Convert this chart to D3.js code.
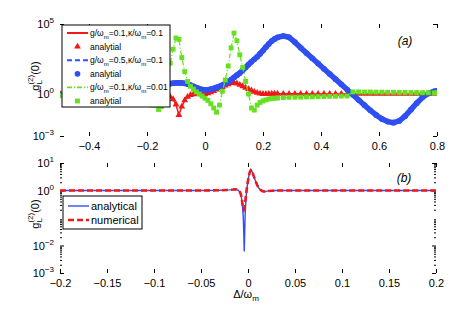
<!DOCTYPE html>
<html>
<head>
<meta charset="utf-8">
<script src="https://d3js.org/d3.v7.min.js"></script>
<style>
    body { margin: 0; background: #fff; }
    text { font-family: "Liberation Sans", Arial, Helvetica, sans-serif; }
</style>
</head>
<body>
<svg id="chart" width="463" height="312"></svg>
<script>
// ---- panel (a): detuning grid and g2(0) ----
const deltaA = [-0.5, -0.48, -0.46, -0.44, -0.42, -0.4, -0.38, -0.36, -0.34, -0.32, -0.3, -0.28, -0.26, -0.24, -0.22, -0.2, -0.18, -0.16,
    -0.15, -0.14, -0.13, -0.12, -0.11, -0.1, -0.09, -0.08, -0.07, -0.06, -0.05, -0.04, -0.03, -0.02, -0.01, 0,
    0.01, 0.02, 0.03, 0.04, 0.05, 0.06, 0.07, 0.08, 0.09, 0.1, 0.11, 0.12, 0.13, 0.14, 0.15, 0.16, 0.17, 0.18, 0.19, 0.2,
    0.21, 0.22, 0.23, 0.24, 0.25,
    0.27, 0.29, 0.31, 0.33, 0.35, 0.37, 0.39, 0.41, 0.43, 0.45, 0.47, 0.49, 0.51, 0.53, 0.55, 0.57, 0.59, 0.61, 0.63, 0.65,
    0.67, 0.69, 0.71, 0.73, 0.75, 0.77, 0.79, 0.8];

// g/wm=0.1, k/wm=0.1
const g2Red = [1.0, 1.0, 1.0, 0.98, 0.98, 0.97, 0.97, 0.96, 0.96, 0.95, 0.95, 0.94, 0.94, 0.93, 0.93, 0.92, 0.91, 0.9,
    0.89, 0.83, 0.76, 0.63, 0.42, 0.18, 0.032, 0.126, 0.35, 0.63, 0.85, 0.95, 1.0, 0.98, 0.95, 1.0,
    1.12, 1.32, 1.66, 2.09, 2.63, 3.16, 3.98, 5.01, 6.03, 6.46, 5.62, 4.47, 3.55, 2.82, 2.24, 1.78, 1.41, 1.2, 1.07, 1.0,
    1.0, 1.02, 1.05, 1.05, 1.05,
    1.03, 1.03, 1.03, 1.03, 1.02, 1.02, 1.02, 1.02, 1.02, 1.02, 1.02, 1.02, 1.02, 1.02, 1.02, 1.02, 1.02, 1.02, 1.02,
    1.02, 1.02, 1.02, 1.02, 1.02, 1.02, 1.02, 1.02];

// g/wm=0.5, k/wm=0.1
const g2Blue = [0.89, 0.95, 1.0, 1.07, 1.15, 1.23, 1.32, 1.41, 1.55, 1.7, 1.86, 2.04, 2.29, 2.57, 2.88, 3.24, 3.63, 4.07,
    4.47, 4.79, 5.13, 5.5, 5.89, 6.17, 6.31, 6.17, 5.75, 5.13, 4.37, 3.55, 2.88, 2.4, 2.09, 1.95,
    2.0, 2.19, 2.51, 2.95, 3.55, 4.37, 5.62, 7.59, 10.5, 15.1, 21.9, 31.6, 50.1, 79.4, 126, 200, 302, 457, 759, 1259,
    2239, 3802, 6026, 8511, 10965,
    13800, 11200, 5010, 2000, 832, 355, 151, 63, 26.9, 11.5, 4.9, 2.09, 0.87, 0.37, 0.158, 0.068, 0.032, 0.0166, 0.0107, 0.0089,
    0.012, 0.026, 0.076, 0.22, 0.58, 1.1, 1.55, 1.66];

// g/wm=0.1, k/wm=0.01
const g2Green = [0.79, 0.79, 0.76, 0.76, 0.72, 0.71, 0.69, 0.66, 0.63, 0.6, 0.56, 0.52, 0.48, 0.42, 0.35, 0.25, 0.16, 0.079,
    0.126, 1.0, 10, 158, 1585, 10000, 7943, 398, 39.8, 7.94, 3.55, 2.24, 1.41, 1.0, 0.71, 0.5,
    0.35, 0.2, 0.1, 0.05, 0.16, 1.58, 10, 100, 1995, 22400, 6310, 631, 79.4, 7.94, 1.0, 0.1, 0.071, 0.16, 0.25, 0.32,
    0.38, 0.44, 0.47, 0.5, 0.52,
    0.55, 0.58, 0.59, 0.6, 0.62, 0.63, 0.65, 0.66, 0.68, 0.69, 0.71, 0.72, 1.41, 1.41, 1.38, 1.38, 1.35, 1.35, 1.32, 1.32,
    1.29, 1.29, 1.26, 1.26, 1.23, 1.23, 1.2, 1.2];

const ticksAX = [-0.4, -0.2, 0, 0.2, 0.4, 0.6, 0.8];
const labelsAX = ['\u22120.4', '\u22120.2', '0', '0.2', '0.4', '0.6', '0.8'];
const ticksAY = [1e-3, 1e0, 1e5];
const legendA = ['g/\u03c9_m=0.1,\u03ba/\u03c9_m=0.1', 'analytial', 'g/\u03c9_m=0.5,\u03ba/\u03c9_m=0.1', 'analytial',
    'g/\u03c9_m=0.1,\u03ba/\u03c9_m=0.01', 'analytial'];

// ---- panel (b) ----
const deltaB = [-0.2, -0.15, -0.1, -0.05, -0.03, -0.02, -0.016, -0.014, -0.012, -0.01,
    -0.009, -0.008, -0.007, -0.006, -0.005, -0.0045, -0.004, -0.0035, -0.003, -0.002,
    -0.001, 0, 0.001, 0.002, 0.003, 0.004, 0.005, 0.006, 0.008, 0.01,
    0.012, 0.014, 0.016, 0.018, 0.02, 0.025, 0.03, 0.05, 0.1, 0.15, 0.2];
const g2Analytical = [1.0, 1.0, 1.0, 1.0, 1.02, 1.05, 1.08, 1.1, 1.08, 1.0,
    0.9, 0.75, 0.55, 0.3, 0.1, 0.03, 0.006, 0.03, 0.15, 0.6,
    1.3, 2.3, 3.5, 4.8, 5.5, 5.2, 4.3, 3.4, 2.2, 1.5,
    1.15, 1.0, 0.93, 0.92, 0.95, 0.98, 1.0, 1.0, 1.0, 1.0, 1.0];
const g2Numerical = [1.0, 1.0, 1.0, 1.0, 1.02, 1.05, 1.08, 1.1, 1.08, 1.0,
    0.92, 0.8, 0.6, 0.35, 0.22, 0.2, 0.22, 0.28, 0.38, 0.75,
    1.4, 2.3, 3.5, 4.8, 5.5, 5.2, 4.3, 3.4, 2.2, 1.5,
    1.15, 1.0, 0.93, 0.92, 0.95, 0.98, 1.0, 1.0, 1.0, 1.0, 1.0];

const ticksBX = [-0.2, -0.15, -0.1, -0.05, 0, 0.05, 0.1, 0.15, 0.2];
const labelsBX = ['\u22120.2', '\u22120.15', '\u22120.1', '\u22120.05', '0', '0.05', '0.1', '0.15', '0.2'];
const ticksBY = [1e-3, 1e-2, 1e0, 1e1];
const legendB = ['analytical', 'numerical'];

const RED = '#f01818';
const BLUE = '#2f4ff2';
const GREEN = '#66e020';

const svg = d3.select('#chart');

const boxA = {left: 60, right: 437, top: 24, bottom: 136};
const boxB = {left: 60, right: 436, top: 163, bottom: 273};

const xA = d3.scaleLinear().domain([-0.5, 0.8]).range([boxA.left, boxA.right]);
const yA = d3.scaleLog().domain([1e-3, 1e5]).range([boxA.bottom, boxA.top]);
const xB = d3.scaleLinear().domain([-0.2, 0.2]).range([boxB.left, boxB.right]);
const yB = d3.scaleLog().domain([1e-3, 1e1]).range([boxB.bottom, boxB.top]);

// text with "_m" style subscripts
function add_sub_text(sel, str, subSize) {
    let parts = str.split('_');
    sel.append('tspan').text(parts[0]);
    for (let i = 1; i < parts.length; i++) {
        sel.append('tspan').attr('dy', 3).attr('font-size', subSize).text(parts[i][0]);
        sel.append('tspan').attr('dy', -3).text(parts[i].slice(1));
    }
}

function draw_axes(box, x, y, xTicks, xLabels, yTicks, yMinor, id) {
    let g = svg.append('g');

    let clean = function (a) {
        a.select('.domain').remove();
        a.selectAll('line').attr('stroke', '#000');
        a.selectAll('text').attr('font-size', 11).attr('fill', '#000')
            .attr('font-family', '"Liberation Sans", Arial, sans-serif');
    };

    g.append('g').attr('transform', 'translate(0,' + box.bottom + ')')
        .call(d3.axisBottom(x).tickValues(xTicks).tickSize(-4).tickPadding(6)
            .tickFormat(function (d, i) { return xLabels[i]; }))
        .call(clean);
    g.append('g').attr('transform', 'translate(0,' + box.top + ')')
        .call(d3.axisTop(x).tickValues(xTicks).tickSize(-4).tickFormat(''))
        .call(clean);
    g.append('g').attr('transform', 'translate(' + box.left + ',0)')
        .call(d3.axisLeft(y).tickValues(yTicks).tickSize(-4).tickFormat(''))
        .call(clean);
    g.append('g').attr('transform', 'translate(' + box.right + ',0)')
        .call(d3.axisRight(y).tickValues(yTicks).tickSize(-4).tickFormat(''))
        .call(clean);
    if (yMinor.length) {
        g.append('g').attr('transform', 'translate(' + box.left + ',0)')
            .call(d3.axisLeft(y).tickValues(yMinor).tickSize(-2).tickFormat(''))
            .call(clean);
        g.append('g').attr('transform', 'translate(' + box.right + ',0)')
            .call(d3.axisRight(y).tickValues(yMinor).tickSize(-2).tickFormat(''))
            .call(clean);
    }

    // 10^k labels
    yTicks.forEach(function (v) {
        let k = Math.round(Math.log10(v));
        let t = g.append('text')
            .attr('x', box.left - 6)
            .attr('y', y(v) + 4)
            .attr('text-anchor', 'end')
            .attr('font-size', 11);
        t.append('tspan').text('10');
        t.append('tspan').attr('dy', -5).attr('font-size', 8).text(k < 0 ? '\u2212' + (-k) : k);
    });

    // y label g_L^(2)(0)
    let cy = (box.top + box.bottom) / 2 - 4;
    let yl = g.append('text')
        .attr('transform', 'translate(39,' + cy + ') rotate(-90)')
        .attr('text-anchor', 'middle')
        .attr('font-size', 11);
    yl.append('tspan').text('g');
    yl.append('tspan').attr('dy', 3).attr('font-size', 8).text('L');
    yl.append('tspan').attr('dx', -4.5).attr('dy', -9).attr('font-size', 8).text('(2)');
    yl.append('tspan').attr('dy', 6).text('(0)');

    g.append('clipPath').attr('id', id)
        .append('rect')
        .attr('x', box.left).attr('y', box.top)
        .attr('width', box.right - box.left).attr('height', box.bottom - box.top);

    return g;
}

// ================= panel (a) =================
let yMinorA = [];
draw_axes(boxA, xA, yA, ticksAX, labelsAX, ticksAY, yMinorA, 'clipA');

let plotA = svg.append('g').attr('clip-path', 'url(#clipA)');

let seriesA = [
    {values: g2Red, color: RED, dash: null, lw: 1.5, band: 0, symbol: d3.symbolTriangle, size: 20},
    {values: g2Blue, color: BLUE, dash: '5,3', lw: 1.5, band: 5.5, symbol: d3.symbolCircle, size: 26},
    {values: g2Green, color: GREEN, dash: '5,2,1,2', lw: 1.2, band: 0, symbol: d3.symbolSquare, size: 24}
];

let lineA = d3.line()
    .x(function (d) { return xA(d[0]); })
    .y(function (d) { return yA(d[1]); });

seriesA.forEach(function (s) {
    let pts = deltaA.map(function (d, i) { return [d, s.values[i]]; });
    if (s.band > 0) {
        plotA.append('path').datum(pts)
            .attr('d', lineA)
            .attr('fill', 'none')
            .attr('stroke', s.color)
            .attr('stroke-width', s.band)
            .attr('stroke-linejoin', 'round');
    }
    plotA.append('path').datum(pts)
        .attr('d', lineA)
        .attr('fill', 'none')
        .attr('stroke', s.color)
        .attr('stroke-width', s.lw)
        .attr('stroke-dasharray', s.dash);
    plotA.selectAll(null)
        .data(pts)
        .enter()
        .append('path')
        .attr('transform', function (d) { return 'translate(' + xA(d[0]) + ',' + yA(d[1]) + ')'; })
        .attr('d', d3.symbol().type(s.symbol).size(s.size))
        .attr('fill', s.color);
});

// legend (a)
let legA = svg.append('g');
legA.append('rect')
    .attr('x', 62).attr('y', 25).attr('width', 108).attr('height', 82)
    .attr('fill', '#fff').attr('stroke', '#000').attr('stroke-width', 1);

legendA.forEach(function (lab, i) {
    let s = seriesA[Math.floor(i / 2)];
    let ry = 33 + i * 13.6;
    if (i % 2 === 0) {
        legA.append('line')
            .attr('x1', 67).attr('x2', 88).attr('y1', ry).attr('y2', ry)
            .attr('stroke', s.color).attr('stroke-width', s.lw + 0.5)
            .attr('stroke-dasharray', s.dash);
    } else {
        legA.append('path')
            .attr('transform', 'translate(77.5,' + ry + ')')
            .attr('d', d3.symbol().type(s.symbol).size(s.size))
            .attr('fill', s.color);
    }
    let t = legA.append('text')
        .attr('x', 90).attr('y', ry + 3)
        .attr('font-size', 8.5);
    add_sub_text(t, lab, 6);
});

svg.append('text')
    .attr('x', 405).attr('y', 45)
    .attr('text-anchor', 'middle')
    .attr('font-size', 12)
    .attr('font-style', 'italic')
    .text('(a)');

// ================= panel (b) =================
let yMinorB = yB.ticks().filter(function (v) {
    let m = v / Math.pow(10, Math.floor(Math.log10(v) + 1e-9));
    return Math.round(m) !== 1;
});
draw_axes(boxB, xB, yB, ticksBX, labelsBX, ticksBY, yMinorB, 'clipB');

let plotB = svg.append('g').attr('clip-path', 'url(#clipB)');

let lineB = d3.line()
    .x(function (d) { return xB(d[0]); })
    .y(function (d) { return yB(d[1]); });

let seriesB = [
    {values: g2Analytical, color: BLUE, dash: null, lw: 1.4},
    {values: g2Numerical, color: RED, dash: '6,3', lw: 2.6}
];

seriesB.forEach(function (s) {
    let pts = deltaB.map(function (d, i) { return [d, s.values[i]]; });
    plotB.append('path').datum(pts)
        .attr('d', lineB)
        .attr('fill', 'none')
        .attr('stroke', s.color)
        .attr('stroke-width', s.lw)
        .attr('stroke-dasharray', s.dash);
});

let legB = svg.append('g');
legB.append('rect')
    .attr('x', 63).attr('y', 196).attr('width', 79).attr('height', 33)
    .attr('fill', '#fff').attr('stroke', '#000').attr('stroke-width', 1);
legendB.forEach(function (lab, i) {
    let s = seriesB[i];
    let ry = 206 + i * 14;
    legB.append('line')
        .attr('x1', 68).attr('x2', 89).attr('y1', ry).attr('y2', ry)
        .attr('stroke', s.color).attr('stroke-width', s.lw)
        .attr('stroke-dasharray', s.dash);
    legB.append('text')
        .attr('x', 91).attr('y', ry + 4)
        .attr('font-size', 11)
        .text(lab);
});

svg.append('text')
    .attr('x', 404).attr('y', 182)
    .attr('text-anchor', 'middle')
    .attr('font-size', 12)
    .attr('font-style', 'italic')
    .text('(b)');

// x label
let xl = svg.append('text')
    .attr('x', 246).attr('y', 298)
    .attr('text-anchor', 'middle')
    .attr('font-size', 11);
add_sub_text(xl, '\u0394/\u03c9_m', 8);
</script>
</body>
</html>
